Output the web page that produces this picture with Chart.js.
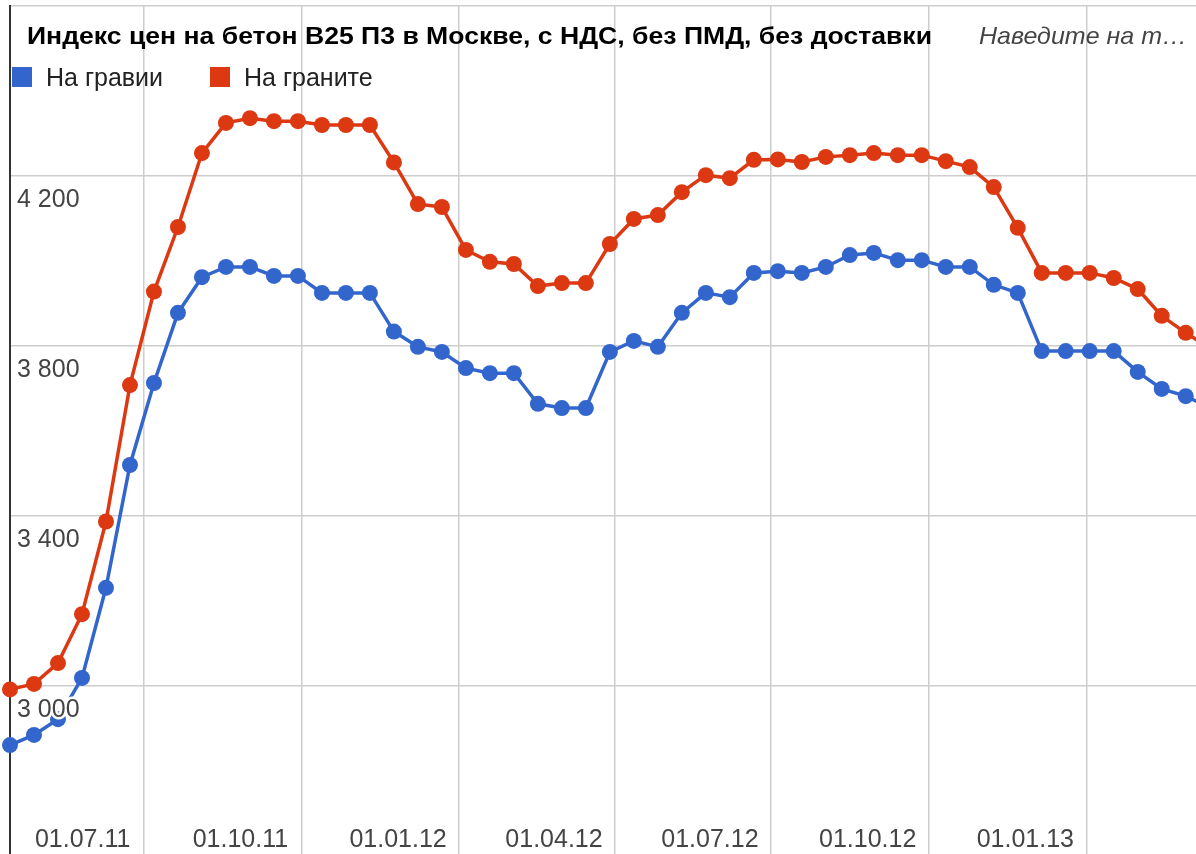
<!DOCTYPE html>
<html>
<head>
<meta charset="utf-8">
<script src="https://cdn.jsdelivr.net/npm/chart.js@4.4.1/dist/chart.umd.min.js"></script>
<style>
html, body { margin: 0; padding: 0; background: #fff; overflow: hidden; }
#wrap { position: relative; width: 1196px; height: 856px; }
</style>
</head>
<body>
<div id="wrap"><canvas id="chart"></canvas></div>
<script>
const title = 'Индекс цен на бетон B25 П3 в Москве, с НДС, без ПМД, без доставки'
const hint = 'Наведите на т…'
const seriesNames = ['На гравии', 'На граните']
const colors = ['#3366cc', '#dc3912']

// one point every two weeks
const dates = [
    '14.04.11', '28.04.11', '12.05.11', '26.05.11', '09.06.11', '23.06.11', '07.07.11', '21.07.11',
    '04.08.11', '18.08.11', '01.09.11', '15.09.11', '29.09.11', '13.10.11', '27.10.11', '10.11.11',
    '24.11.11', '08.12.11', '22.12.11', '05.01.12', '19.01.12', '02.02.12', '16.02.12', '01.03.12',
    '15.03.12', '29.03.12', '12.04.12', '26.04.12', '10.05.12', '24.05.12', '07.06.12', '21.06.12',
    '05.07.12', '19.07.12', '02.08.12', '16.08.12', '30.08.12', '13.09.12', '27.09.12', '11.10.12',
    '25.10.12', '08.11.12', '22.11.12', '06.12.12', '20.12.12', '03.01.13', '17.01.13', '31.01.13',
    '14.02.13', '28.02.13', '14.03.13'
]

const gravel = [
    2861, 2885, 2922, 3019, 3231, 3520, 3713, 3878, 3962, 3986, 3986, 3965, 3965,
    3925, 3925, 3925, 3834, 3798, 3786, 3748, 3736, 3736, 3664, 3654, 3654, 3786,
    3812, 3798, 3878, 3925, 3915, 3972, 3976, 3972, 3986, 4014, 4019, 4002, 4002,
    3986, 3986, 3944, 3925, 3788, 3788, 3788, 3788, 3739, 3699, 3682, 3655
]

const granite = [
    2992, 3005, 3054, 3169, 3387, 3708, 3928, 4080, 4254, 4325, 4336, 4329, 4329,
    4320, 4320, 4320, 4232, 4134, 4127, 4026, 3998, 3993, 3941, 3948, 3948, 4040,
    4099, 4108, 4162, 4202, 4195, 4238, 4239, 4233, 4245, 4249, 4254, 4249, 4249,
    4235, 4221, 4174, 4078, 3972, 3972, 3972, 3960, 3934, 3871, 3831, 3795
]

const tickLabels = ['01.07.11', '01.10.11', '01.01.12', '01.04.12', '01.07.12', '01.10.12', '01.01.13']
const xFrom = '14.04.11'
const xTo = '06.03.13'

function toDay(s) {
    const [d, m, y] = s.split('.').map(Number)
    return Date.UTC(2000 + y, m - 1, d) / 86400000
}

function fmt(v) {
    return String(v).replace(/\B(?=(\d{3})+(?!\d))/g, ' ')
}

function drawFit(ctx, text, x, y, width) {
    const w = ctx.measureText(text).width
    ctx.save()
    ctx.translate(x, y)
    if (width) ctx.scale(width / w, 1)
    ctx.fillText(text, 0, 0)
    ctx.restore()
}

const overlay = {
    id: 'overlay',
    afterDatasetsDraw(chart) {
        const ctx = chart.ctx
        const xs = chart.scales.x, ys = chart.scales.y
        ctx.save()
        ctx.textBaseline = 'alphabetic'

        // y labels sit just under their gridline, inside the plot
        ctx.font = '25px "Liberation Sans", Arial, sans-serif'
        ctx.textAlign = 'left'
        ctx.lineJoin = 'round'
        ys.ticks.forEach(t => {
            if (t.value <= ys.min || t.value >= ys.max) return
            const py = ys.getPixelForValue(t.value) + 31
            ctx.strokeStyle = '#fff'
            ctx.lineWidth = 5
            ctx.strokeText(fmt(t.value), chart.chartArea.left + 7, py)
            ctx.fillStyle = '#444'
            ctx.fillText(fmt(t.value), chart.chartArea.left + 7, py)
        })

        // x labels
        ctx.textAlign = 'center'
        xs.ticks.forEach((t, i) => {
            ctx.fillStyle = '#444'
            ctx.fillText(tickLabels[i], xs.getPixelForValue(t.value) - 61, 847)
        })

        // title + hint
        ctx.textAlign = 'left'
        ctx.fillStyle = '#000'
        ctx.font = 'bold 24px "Liberation Sans", Arial, sans-serif'
        drawFit(ctx, title, 27, 44, 905)
        ctx.fillStyle = '#444'
        ctx.font = 'italic 24px "Liberation Sans", Arial, sans-serif'
        drawFit(ctx, hint, 979, 44, 208)

        // legend
        ctx.font = '25px "Liberation Sans", Arial, sans-serif'
        const legendX = [12, 210]
        seriesNames.forEach((name, i) => {
            ctx.fillStyle = colors[i]
            ctx.fillRect(legendX[i], 67, 20, 20)
            ctx.fillStyle = '#222'
            ctx.fillText(name, legendX[i] + 34, 86)
        })
        ctx.restore()
    }
}

const datasets = [gravel, granite].map((vals, i) => ({
    label: seriesNames[i],
    data: dates.map((d, j) => ({ x: toDay(d), y: vals[j] })),
    borderColor: colors[i],
    backgroundColor: colors[i],
    borderWidth: 3.5,
    pointRadius: 8,
    pointHoverRadius: 8,
    pointBorderWidth: 0,
    tension: 0,
    clip: false
}))

const chart = new Chart(document.getElementById('chart'), {
    type: 'line',
    data: { datasets },
    options: {
        responsive: true,
        maintainAspectRatio: false,
        animation: false,
        events: [],
        layout: { autoPadding: false, padding: { left: 10, top: 6, right: 0, bottom: 0 } },
        plugins: {
            legend: { display: false },
            title: { display: false },
            tooltip: { enabled: false }
        },
        scales: {
            x: {
                type: 'linear',
                min: toDay(xFrom),
                max: toDay(xTo),
                afterBuildTicks: axis => { axis.ticks = tickLabels.map(t => ({ value: toDay(t) })) },
                grid: { color: '#cdcdcd', lineWidth: 1.5, drawTicks: false },
                border: { display: false },
                ticks: { display: false }
            },
            y: {
                min: 2600,
                max: 4600,
                ticks: { stepSize: 400, display: false },
                grid: { color: '#cdcdcd', lineWidth: 1.5, drawTicks: false },
                border: { display: true, color: '#333', width: 2 }
            }
        }
    },
    plugins: [overlay]
})
</script>
</body>
</html>
